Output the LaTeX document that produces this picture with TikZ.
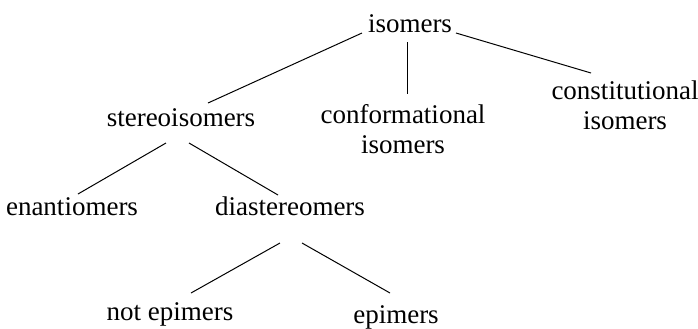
\documentclass[tikz,border=0pt]{standalone}
\usepackage{fontspec}
\setmainfont{Liberation Serif}
\newfontfamily\termfont{Liberation Serif}
\usepackage{tikz}

\begin{document}
\begin{tikzpicture}[
      x=0.5pt, y=-0.5pt,
      term/.style={font=\termfont\fontsize{13.5}{15}\selectfont, inner sep=0pt,
                   anchor=base, align=center},
      branch/.style={line width=0.5pt, draw=black},
    ]
    \useasboundingbox (0,0) rectangle (698,328);

    % Top level
    \node[term] (iso) at (410,32) {isomers};

    % Second level (base is the last line)
    \node[term] (stereo) at (181,126) {stereoisomers};
    \node[term] (conf) at (403,153) {conformational\\isomers};
    \node[term] (const) at (625,129) {constitutional\\isomers};

    % Stereoisomers split
    \node[term] (enan) at (72,215) {enantiomers};
    \node[term] (dia) at (290,215) {diastereomers};

    % Diastereomers split
    \node[term] (notep) at (170,320) {not epimers};
    \node[term] (ep) at (396,323) {epimers};

    % Branches
    \draw[branch] ([shift={(-48,1)}]iso.base) -- ([shift={(27,-23)}]stereo.base);
    \draw[branch] ([shift={(-3,10)}]iso.base) -- ([shift={(4,-59)}]conf.base);
    \draw[branch] ([shift={(46,1)}]iso.base) -- ([shift={(-34,-56)}]const.base);
    \draw[branch] ([shift={(-15,17)}]stereo.base) -- ([shift={(6,-21)}]enan.base);
    \draw[branch] ([shift={(8,17)}]stereo.base) -- ([shift={(-12,-20)}]dia.base);
    \draw[branch] ([shift={(-10,28)}]dia.base) -- ([shift={(21,-27)}]notep.base);
    \draw[branch] ([shift={(12,28)}]dia.base) -- ([shift={(-6,-30)}]ep.base);
  \end{tikzpicture}
\end{document}
